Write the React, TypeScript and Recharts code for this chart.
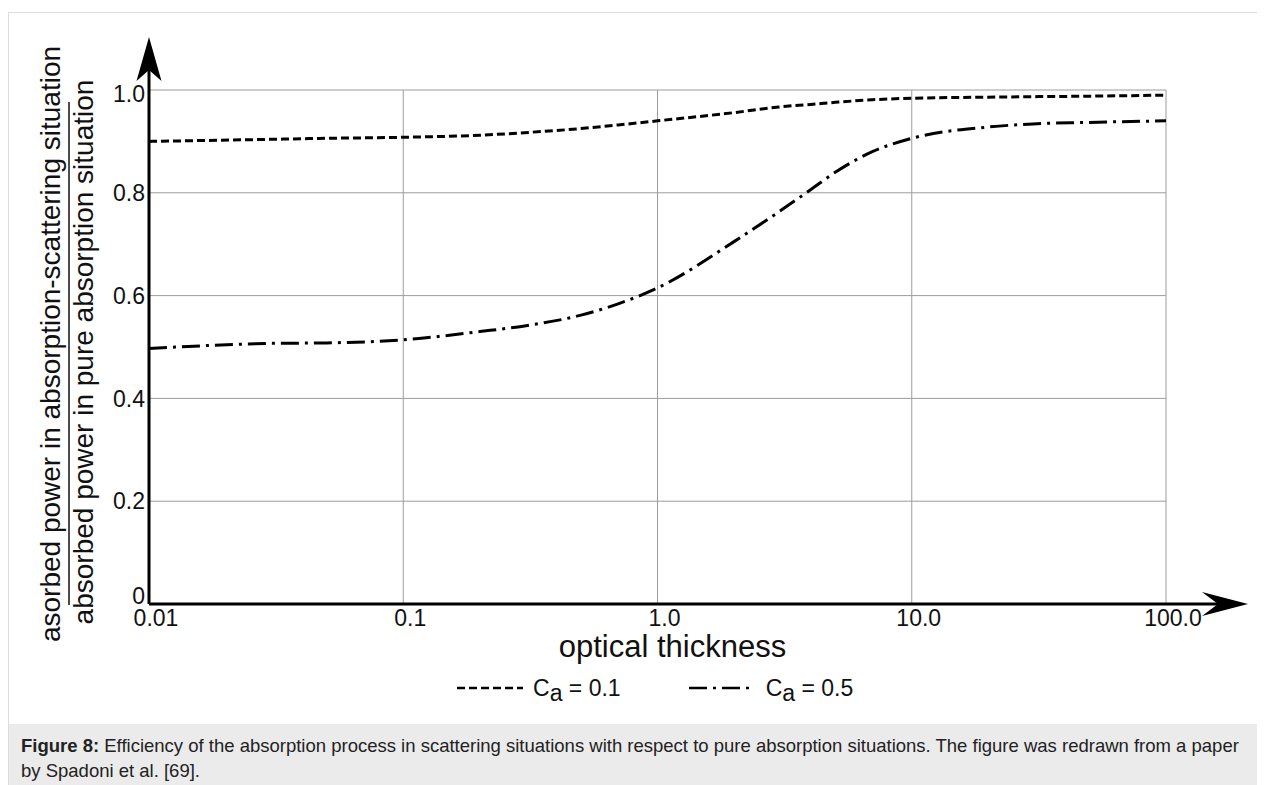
import React from 'react';
import { LineChart, Line, XAxis, YAxis, CartesianGrid, Legend } from 'recharts';

// optical thickness sampled along the log axis
const thickness = [0.01, 0.03, 0.05, 0.1, 0.2, 0.3, 0.5, 0.7, 1, 2, 3, 4, 5, 7, 10, 20, 30, 50, 100];
// ratio absorbed (scattering) / absorbed (pure absorption)
const ratioCa01 = [0.9, 0.904, 0.906, 0.908, 0.912, 0.917, 0.925, 0.932, 0.94, 0.956, 0.967, 0.972, 0.976, 0.981, 0.984, 0.986, 0.987, 0.988, 0.99];
const ratioCa05 = [0.497, 0.507, 0.508, 0.514, 0.53, 0.541, 0.562, 0.584, 0.615, 0.705, 0.763, 0.806, 0.84, 0.88, 0.906, 0.928, 0.934, 0.937, 0.94];

const xTicks = [0.01, 0.1, 1, 10, 100];
const xTickLabels = ['0.01', '0.1', '1.0', '10.0', '100.0'];
const yTicks = [0, 0.2, 0.4, 0.6, 0.8, 1];
const yTickLabels = ['0', '0.2', '0.4', '0.6', '0.8', '1.0'];

const seriesInfo = [
  { key: 'ca01', value: '0.1', dash: '8 4' },
  { key: 'ca05', value: '0.5', dash: '18 6 3 6' },
];

const data = thickness.map((t, i) => ({ t, ca01: ratioCa01[i], ca05: ratioCa05[i] }));

const FONT = '"Liberation Sans", Arial, Helvetica, sans-serif';

const XTick = (props: any) => {
  const { x, y, payload } = props;
  const idx = xTicks.indexOf(payload.value);
  return (
    <text x={x + 7} y={y} dy="0.71em" textAnchor="middle" fontSize={23} fill="#111" fontFamily={FONT}>
      {xTickLabels[idx]}
    </text>
  );
};

const YTick = (props: any) => {
  const { x, y, payload } = props;
  const idx = yTicks.indexOf(payload.value);
  // the original nudges the end labels a bit
  const shift = payload.value === 0 ? -8 : payload.value === 1 ? 4 : 0;
  return (
    <text x={x} y={y + shift} dy="0.355em" textAnchor="end" fontSize={23} fill="#111" fontFamily={FONT}>
      {yTickLabels[idx]}
    </text>
  );
};

// arrow head + title for the x axis, placed from the axis viewBox
const XAxisDecor = (props: any) => {
  const { x, y, width } = props.viewBox;
  const end = x + width;
  return (
    <g>
      <line x1={end} y1={y} x2={end + 56} y2={y} stroke="#000" strokeWidth={3} />
      <polygon points={`${end + 82},${y} ${end + 36},${y - 12} ${end + 52},${y} ${end + 36},${y + 12}`} fill="#000" />
      <text x={x + width / 2 + 15} y={y + 53} textAnchor="middle" fontSize={31} fill="#111" fontFamily={FONT}>
        optical thickness
      </text>
    </g>
  );
};

// arrow head + two-line fraction title for the y axis
const YAxisDecor = (props: any) => {
  const { x, y, width, height } = props.viewBox;
  const ax = x + width;
  const cy = y + height / 2;
  const l1 = ax - 89;
  const l2 = ax - 56;
  const bar = ax - 80;
  return (
    <g>
      <line x1={ax} y1={y} x2={ax} y2={y - 24} stroke="#000" strokeWidth={3} />
      <polygon points={`${ax},${y - 53} ${ax - 12.5},${y - 9} ${ax},${y - 20} ${ax + 12.5},${y - 9}`} fill="#000" />
      <text x={l1} y={cy - 3} transform={`rotate(-90, ${l1}, ${cy - 3})`} textAnchor="middle" fontSize={28} fill="#111" fontFamily={FONT}>
        asorbed power in absorption-scattering situation
      </text>
      <line x1={bar} y1={y + 12} x2={bar} y2={y + height + 1} stroke="#111" strokeWidth={1.5} />
      <text x={l2} y={cy + 5} transform={`rotate(-90, ${l2}, ${cy + 5})`} textAnchor="middle" fontSize={28} fill="#111" fontFamily={FONT}>
        absorbed power in pure absorption situation
      </text>
    </g>
  );
};

const renderLegend = () => (
  <div style={{ display: 'flex', alignItems: 'center', paddingLeft: 449, fontFamily: FONT, fontSize: 23, color: '#111', height: 30 }}>
    {seriesInfo.map((s, i) => (
      <div key={s.key} style={{ display: 'flex', alignItems: 'center', marginLeft: i === 0 ? 0 : 68 }}>
        <svg width={i === 0 ? 66 : 63} height={10} style={{ display: 'block' }}>
          <line x1={0} y1={5} x2={i === 0 ? 66 : 63} y2={5} stroke="#000" strokeWidth={2.5} strokeDasharray={s.dash} />
        </svg>
        <span style={{ marginLeft: i === 0 ? 10 : 14, whiteSpace: 'nowrap' }}>
          C<span style={{ position: 'relative', top: 5 }}>a</span> = {s.value}
        </span>
      </div>
    ))}
  </div>
);

export default function App() {
  return (
    <div style={{ position: 'relative', width: 1257, height: 777, fontFamily: FONT, background: '#fff' }}>
      <div style={{ position: 'absolute', top: 4, left: 0, right: 0, bottom: 0, borderTop: '1px solid #dcdcdc', borderLeft: '1px solid #dcdcdc' }} />
      <div style={{ position: 'absolute', top: 0, left: 0 }}>
        <LineChart width={1257} height={716} data={data} margin={{ top: 82, right: 99, left: 81, bottom: 90 }}>
          <CartesianGrid stroke="#9c9c9c" strokeWidth={1} />
          <XAxis
            dataKey="t"
            type="number"
            scale="log"
            domain={[0.01, 100]}
            ticks={xTicks}
            height={30}
            tickSize={0}
            tickMargin={6}
            tick={<XTick />}
            axisLine={{ stroke: '#000', strokeWidth: 3 }}
            tickLine={false}
            interval={0}
            label={{ content: XAxisDecor }}
          />
          <YAxis
            type="number"
            domain={[0, 1]}
            ticks={yTicks}
            width={60}
            tickSize={0}
            tickMargin={4}
            tick={<YTick />}
            axisLine={{ stroke: '#000', strokeWidth: 3 }}
            tickLine={false}
            interval={0}
            label={{ content: YAxisDecor }}
          />
          <Legend
            layout="horizontal"
            verticalAlign="middle"
            align="center"
            content={renderLegend}
            wrapperStyle={{ position: 'absolute', top: 665, left: 0, width: 1257, height: 30 }}
          />
          <Line dataKey="ca01" type="monotone" stroke="#000" strokeWidth={3} strokeDasharray={seriesInfo[0].dash} dot={false} activeDot={false} isAnimationActive={false} />
          <Line dataKey="ca05" type="monotone" stroke="#000" strokeWidth={3} strokeDasharray={seriesInfo[1].dash} dot={false} activeDot={false} isAnimationActive={false} />
        </LineChart>
      </div>
      <div style={{ position: 'absolute', top: 716, left: 1, right: 0, bottom: 0, background: '#ebebeb', padding: '9px 0 0 12px', boxSizing: 'border-box', fontSize: 18.5, lineHeight: '25px', color: '#222' }}>
        <div style={{ whiteSpace: 'nowrap' }}>
          <b>Figure 8:</b> Efficiency of the absorption process in scattering situations with respect to pure absorption situations. The figure was redrawn from a paper
        </div>
        <div style={{ whiteSpace: 'nowrap' }}>by Spadoni et al. [69].</div>
      </div>
    </div>
  );
}
